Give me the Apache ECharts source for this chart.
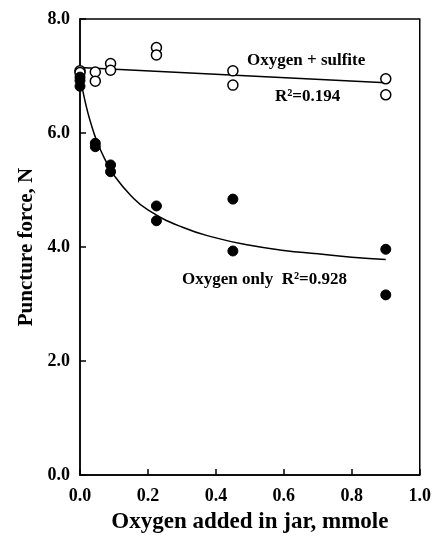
<!DOCTYPE html>
<html><head><meta charset="utf-8">
<script src="https://cdn.jsdelivr.net/npm/echarts@6/dist/echarts.min.js"></script>
<style>html,body{margin:0;padding:0;background:#fff}#c{width:434px;height:540px}</style>
</head><body><div id="c"></div>
<script>
// Data
const sulfiteX = [0, 0, 0.045, 0.045, 0.09, 0.09, 0.225, 0.225, 0.45, 0.45, 0.9, 0.9];
const sulfiteY = [7.09, 7.06, 7.07, 6.91, 7.22, 7.10, 7.50, 7.37, 7.09, 6.84, 6.95, 6.67];
const onlyX = [0, 0, 0, 0.045, 0.045, 0.09, 0.09, 0.225, 0.225, 0.45, 0.45, 0.9, 0.9];
const onlyY = [6.98, 6.92, 6.82, 5.82, 5.76, 5.44, 5.32, 4.72, 4.46, 4.84, 3.93, 3.96, 3.16];
// fitted lines
const sulfiteFitX = [0, 0.9];
const sulfiteFitY = [7.15, 6.88];
const onlyFitX = [0, 0.01, 0.02, 0.03, 0.05, 0.075, 0.1, 0.15, 0.2, 0.3, 0.4, 0.5, 0.6, 0.7, 0.8, 0.9];
const onlyFitY = [7.0, 6.69, 6.43, 6.21, 5.85, 5.52, 5.26, 4.90, 4.65, 4.35, 4.16, 4.03, 3.94, 3.88, 3.82, 3.78];
const xTicks = [0, 0.2, 0.4, 0.6, 0.8, 1.0];
const yTicks = [0, 2, 4, 6, 8];

const zip = (a, b) => a.map((v, i) => [v, b[i]]);
const font = 'Liberation Serif';
const chart = echarts.init(document.getElementById('c'));
chart.setOption({
  animation: false,
  grid: {left: 80, right: 11, top: 19, bottom: 65, show: true, borderColor: '#000', borderWidth: 1.5, backgroundColor: 'transparent'},
  xAxis: {
    type: 'value', min: xTicks[0], max: xTicks[xTicks.length - 1], interval: 0.2,
    name: 'Oxygen added in jar, mmole', nameLocation: 'middle', nameGap: 36,
    nameTextStyle: {fontFamily: font, fontWeight: 'bold', fontSize: 23, color: '#000'},
    axisLine: {lineStyle: {color: '#000', width: 1.5}},
    axisTick: {inside: true, length: 6, lineStyle: {color: '#000', width: 1.5}},
    axisLabel: {fontFamily: font, fontWeight: 'bold', fontSize: 18, color: '#000', margin: 12, formatter: v => v.toFixed(1)},
    splitLine: {show: false}
  },
  yAxis: {
    type: 'value', min: yTicks[0], max: yTicks[yTicks.length - 1], interval: 2,
    name: 'Puncture force, N', nameLocation: 'middle', nameGap: 42, nameRotate: 90,
    nameTextStyle: {fontFamily: font, fontWeight: 'bold', fontSize: 21, color: '#000'},
    axisLine: {lineStyle: {color: '#000', width: 1.5}},
    axisTick: {inside: true, length: 6, lineStyle: {color: '#000', width: 1.5}},
    axisLabel: {fontFamily: font, fontWeight: 'bold', fontSize: 18, color: '#000', margin: 10, formatter: v => v.toFixed(1)},
    splitLine: {show: false}
  },
  series: [
    {type: 'line', data: zip(sulfiteFitX, sulfiteFitY), symbol: 'none', lineStyle: {color: '#000', width: 1.5}, z: 1},
    {type: 'line', data: zip(onlyFitX, onlyFitY), symbol: 'none', smooth: true, lineStyle: {color: '#000', width: 1.5}, z: 1},
    {type: 'scatter', data: zip(sulfiteX, sulfiteY), symbol: 'circle', symbolSize: 10,
     itemStyle: {color: '#fff', borderColor: '#000', borderWidth: 1.5, opacity: 1}, z: 3},
    {type: 'scatter', data: zip(onlyX, onlyY), symbol: 'circle', symbolSize: 10,
     itemStyle: {color: '#000', borderColor: '#000', borderWidth: 1, opacity: 1}, z: 4}
  ],
  graphic: [
    {type: 'text', left: 247, top: 52, style: {text: 'Oxygen + sulfite', font: 'bold 17px "Liberation Serif"', fill: '#000'}},
    {type: 'text', left: 275, top: 88, style: {text: 'R²=0.194', font: 'bold 17px "Liberation Serif"', fill: '#000'}},
    {type: 'text', left: 182, top: 271, style: {text: 'Oxygen only  R²=0.928', font: 'bold 17px "Liberation Serif"', fill: '#000'}}
  ]
});
</script></body></html>
